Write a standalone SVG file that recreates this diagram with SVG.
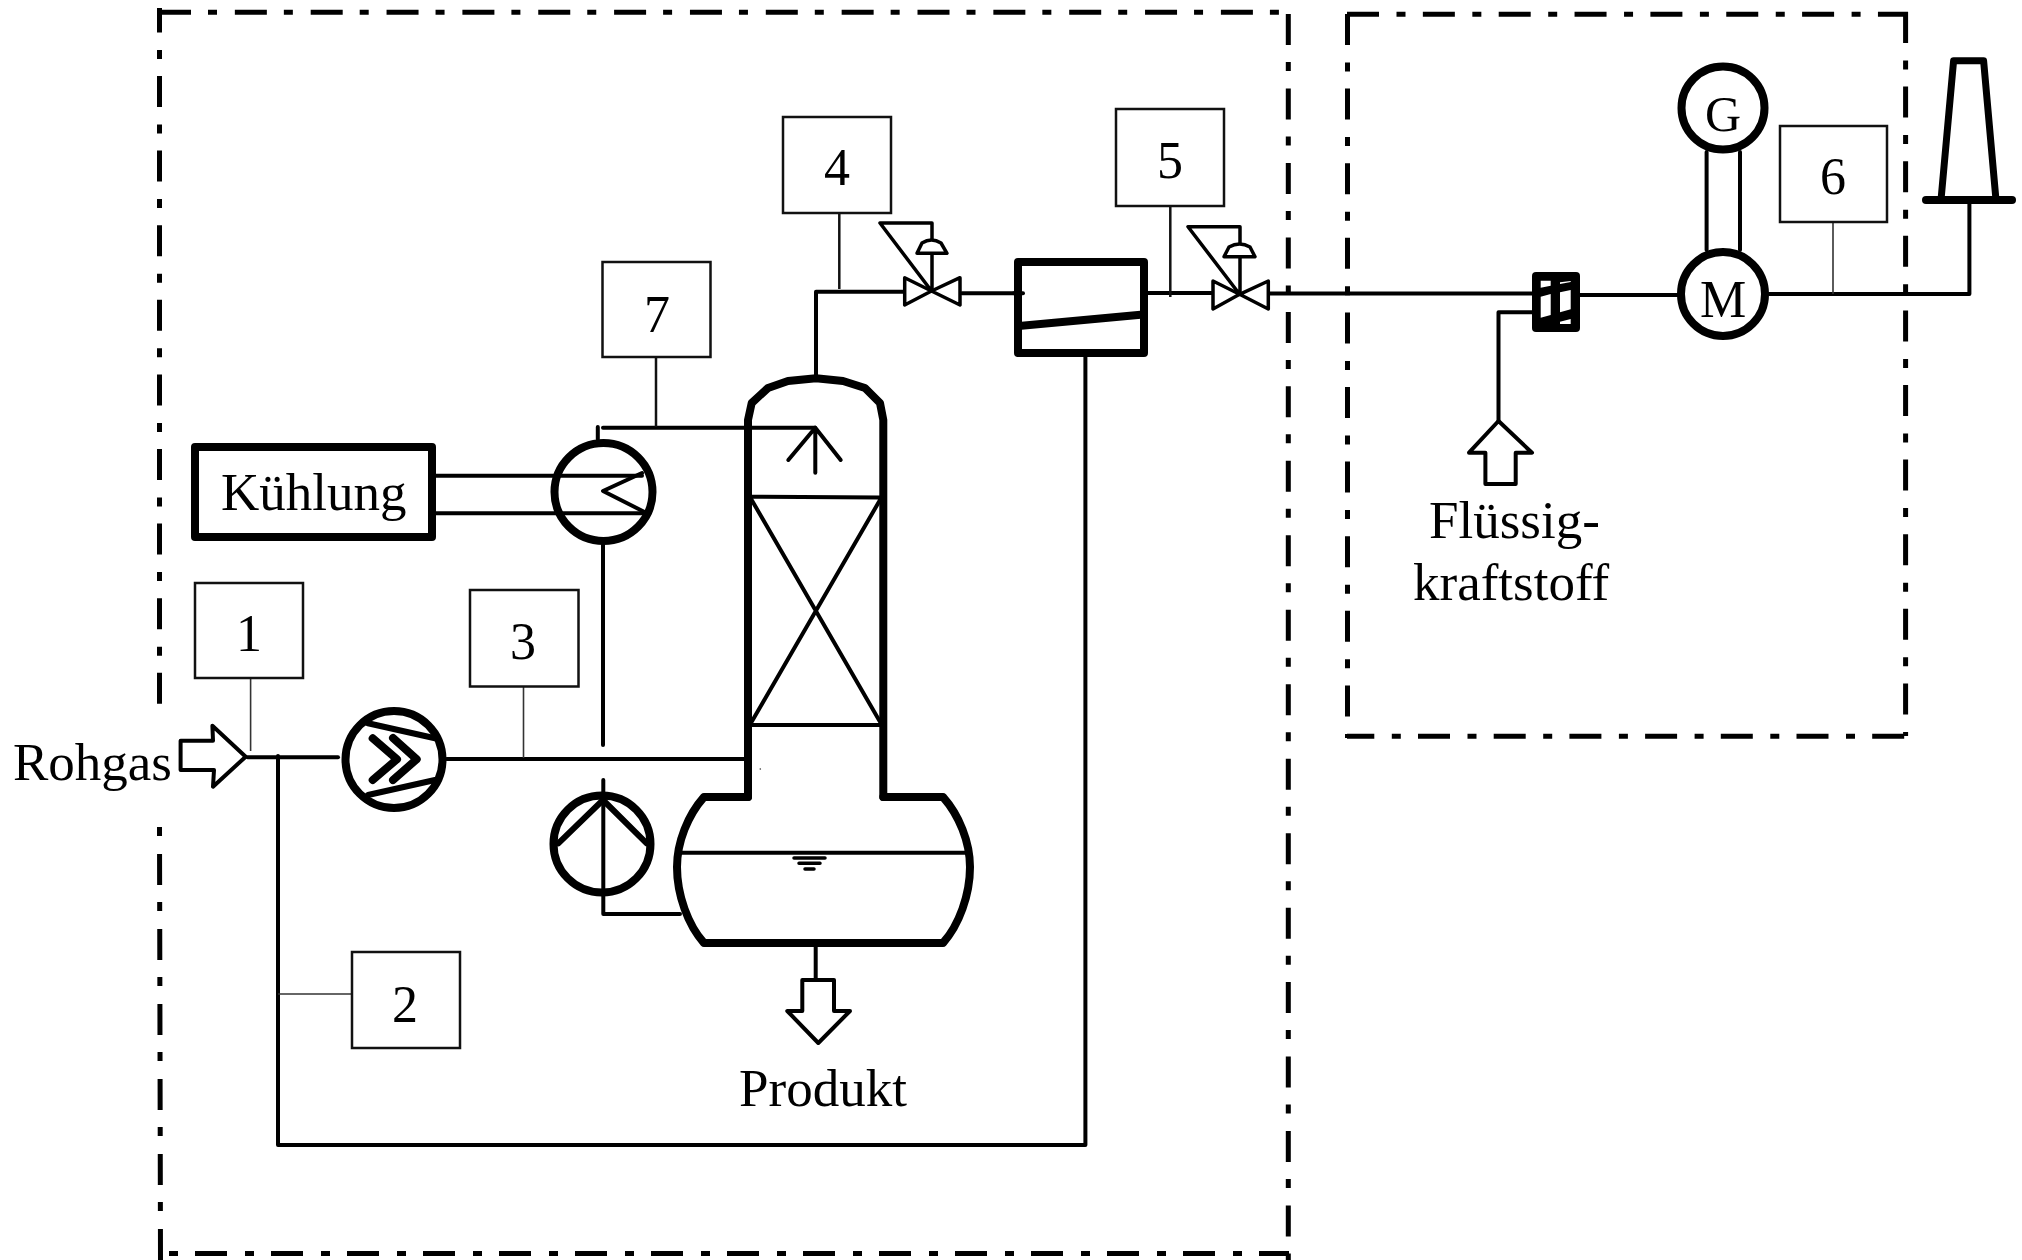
<svg xmlns="http://www.w3.org/2000/svg" width="2022" height="1260" viewBox="0 0 2022 1260">
<style>
text{font-family:"Liberation Serif","Times New Roman",serif;font-size:52px;fill:#000}
.w{font-size:53px}
.g{font-size:50px}
.c{text-anchor:middle}
.bd{fill:none;stroke:#000;stroke-width:5}
.p{fill:none;stroke:#000;stroke-width:4;stroke-linecap:round;stroke-linejoin:round}
.t{fill:none;stroke:#000;stroke-width:8;stroke-linecap:round;stroke-linejoin:round}
.s{fill:#fff;stroke:#000;stroke-width:8;stroke-linejoin:round}
.m{fill:none;stroke:#000;stroke-width:6;stroke-linecap:round;stroke-linejoin:round}
.b{fill:#fff;stroke:#111;stroke-width:2.5}
.l{fill:none;stroke:#333;stroke-width:1.6}
.d{fill:none;stroke:#111;stroke-width:2.5}
.v{fill:#fff;stroke:#000;stroke-width:3.5;stroke-linejoin:round;stroke-linecap:round}
.o{fill:none;stroke:#000;stroke-width:3.5;stroke-linejoin:round;stroke-linecap:round}
</style>
<rect width="2022" height="1260" fill="#fff"/>
<g id="boundaries">
<path class="bd" d="M159 12.3H1279" stroke-dasharray="32 17 9 17.85"/>
<path class="bd" d="M159.5 8V704" stroke-dasharray="31 17.5 9 17.1" stroke-dashoffset="6.6"/>
<path class="bd" d="M159.5 827L160.5 1260" stroke-dasharray="31 17 9 18" stroke-dashoffset="48"/>
<path class="bd" d="M1288.3 14V1260" stroke-dasharray="31 17 9 17.47"/>
<path class="bd" d="M169 1253.5H1289" stroke-dasharray="9 17 32 18"/>
<path class="bd" d="M1347 14.3H1908" stroke-dasharray="32 17.5 9 17.35"/>
<path class="bd" d="M1347.5 14V738" stroke-dasharray="31 17.5 9 17.1"/>
<path class="bd" d="M1905.6 12V736" stroke-dasharray="31 17.5 9 17.1"/>
<path class="bd" d="M1347 736.3H1906" stroke-dasharray="32 17.5 9 17.2" stroke-dashoffset="4.7"/>
</g>
<g id="connectors">
<path class="p" d="M816 375V291.7H903"/>
<path class="p" d="M962 293.3H1023"/>
<path class="p" d="M1148 293H1213"/>
<path class="p" d="M1270 293.5H1532"/>
<path class="p" d="M1580 295H1678"/>
<path class="p" d="M1769 294H1969.4V200"/>
<path class="p" d="M1498.5 421V312.3H1532"/>
<path class="p" d="M1085.4 357V1145H278V756"/>
<path class="p" d="M247.6 757.3H338"/>
<path class="p" d="M446.6 759H745"/>
<path class="p" d="M436 475.7H642M436 513.3H642"/>
<path class="p" d="M597.8 427V439M603 427.7H815"/>
<path class="p" d="M603 545V745"/>
<path class="p" d="M603.3 780V914H680"/>
<path class="p" d="M815.7 947V980"/>
<path class="p" d="M1706.6 152V250M1740 152V250"/>
<path class="l" d="M250.6 678V751"/>
<path class="l" d="M278 994H352"/>
<path class="l" d="M523.5 686V758"/>
<path class="d" d="M656 357V427"/>
<path class="d" d="M839.3 213V289"/>
<path class="d" d="M1170.3 206V297"/>
<path class="l" d="M1833 221V294"/>
</g>
<g id="box1"><rect class="b" x="195" y="583" width="108" height="95"/><text class="c" x="249" y="651">1</text></g>
<g id="box2"><rect class="b" x="352" y="952" width="108" height="96"/><text class="c" x="405" y="1022">2</text></g>
<g id="box3"><rect class="b" x="470" y="590" width="108.5" height="96.5"/><text class="c" x="523" y="659">3</text></g>
<g id="box4"><rect class="b" x="783" y="117" width="108" height="96"/><text class="c" x="837" y="185">4</text></g>
<g id="box5"><rect class="b" x="1116" y="109" width="108" height="97"/><text class="c" x="1170" y="178">5</text></g>
<g id="box6"><rect class="b" x="1780" y="126" width="107" height="96"/><text class="c" x="1833" y="194">6</text></g>
<g id="box7"><rect class="b" x="602.5" y="262" width="108" height="95"/><text class="c" x="657" y="332">7</text></g>
<g id="kuehlung"><rect class="s" x="195" y="447" width="237" height="90"/><text class="w" x="221" y="510">Kühlung</text></g>
<g id="heat-exchanger-top">
<circle cx="603.5" cy="492" r="49" fill="none" stroke="#000" stroke-width="8"/>
<path class="p" d="M642 473L603 491L644 511.7"/>
</g>
<g id="compressor">
<circle cx="394" cy="759.5" r="48.5" fill="#fff" stroke="#000" stroke-width="8"/>
<path class="m" d="M368 723.3L435 738.3M368 795L435 780"/>
<path class="t" d="M372.7 738.3L397 759.3L372.7 780M393 738L416.7 759.3L393 780"/>
</g>
<g id="pump">
<circle cx="602" cy="844" r="48.5" fill="none" stroke="#000" stroke-width="8"/>
<path class="m" d="M558.3 843.3L603 800L646.7 843.3"/>
</g>
<g id="column">
<path class="t" d="M748 797V420L751.7 403L768 388L788 381L816 378.3L843 381L865 388L880 403L883.3 420V797"/>
<path class="p" d="M751.7 496.7L880 497.5M751.7 725H880M751.7 500L880 721.7M880 500L751.700 721.700"/>
<path class="p" d="M788.3 460L815.3 427.7L840.7 460M815.3 427.7V472.7"/>
<circle cx="760.3" cy="769" r="0.8" fill="#333"/>
</g>
<g id="vessel">
<path class="t" d="M748 797H704C688 815 677 842 677 867C677 895 688 925 704 943H943C959 925 970 895 970 867C970 842 959 815 943 797H883.300"/>
<path class="p" d="M680 852.7H967"/>
<path class="p" style="stroke-width:3.5" d="M794 858H825M799 863.3H820M805 869H814"/>
</g>
<g id="valve4">
<path class="v" d="M904.7 277.7L931.5 291L904.7 305ZM960 277.7L931.5 291L960 305Z"/>
<path class="o" d="M931.5 291L880 223H932V291"/>
<path class="v" d="M917 253.3L922 243Q931.5 237 941 243L947 253.3Z"/>
</g>
<g id="valve5">
<path class="v" d="M1213 281L1239.6 294.3L1213 309ZM1268.3 281L1239.6 294.3L1268.3 309Z"/>
<path class="o" d="M1239.6 294.3L1188 226.7H1240V294.3"/>
<path class="v" d="M1224 256.7L1229 247Q1239.6 241 1250 247L1255 256.7Z"/>
</g>
<g id="heat-exchanger-right">
<rect class="s" x="1018" y="262" width="126" height="91"/>
<path class="t" style="stroke-linecap:butt" d="M1016 326.2L1146 314.2"/>
<path class="p" d="M1014 293.3H1023"/>
</g>
<g id="mixer">
<rect x="1532" y="272" width="48" height="60" rx="4" fill="#000"/>
<path fill="#fff" d="M1540.7 280.7H1550.7V285.7L1540.7 287.7ZM1540.7 296.7L1550.7 294V315L1540.7 317.7ZM1560 282.3L1570.7 281V282L1560 284ZM1560 292.3L1570.7 290V309.3L1560 312.3ZM1560 321.7L1570.7 319V324H1560Z"/>
</g>
<g id="motor"><circle cx="1723" cy="294" r="42" fill="#fff" stroke="#000" stroke-width="8"/><text class="c" x="1723" y="316.7">M</text></g>
<g id="generator"><circle cx="1723" cy="108" r="41.5" fill="#fff" stroke="#000" stroke-width="8"/><text class="c g" x="1723" y="130.7">G</text></g>
<g id="stack">
<path class="t" style="stroke-width:7" d="M1941 200L1953.6 60.7H1983.6L1996 200"/>
<path class="t" d="M1926 200H2012"/>
</g>
<g id="rohgas"><path class="p" d="M180.6 740.7H213L212.4 725.7L245.7 756.7L213 786.7L214 770H180.6Z"/><text class="w" x="13" y="780">Rohgas</text></g>
<g id="produkt"><path class="p" d="M802.3 1011V980H834V1011H850L818.3 1043L787.3 1011Z"/><text class="w" x="739" y="1105.7">Produkt</text></g>
<g id="fluessigkraftstoff"><path class="p" d="M1498.5 421L1532 452.7H1515.7V484H1485.4V452.7H1469Z"/><text class="w" x="1429" y="538">Flüssig-</text><text class="w" x="1413" y="600">kraftstoff</text></g>
</svg>
